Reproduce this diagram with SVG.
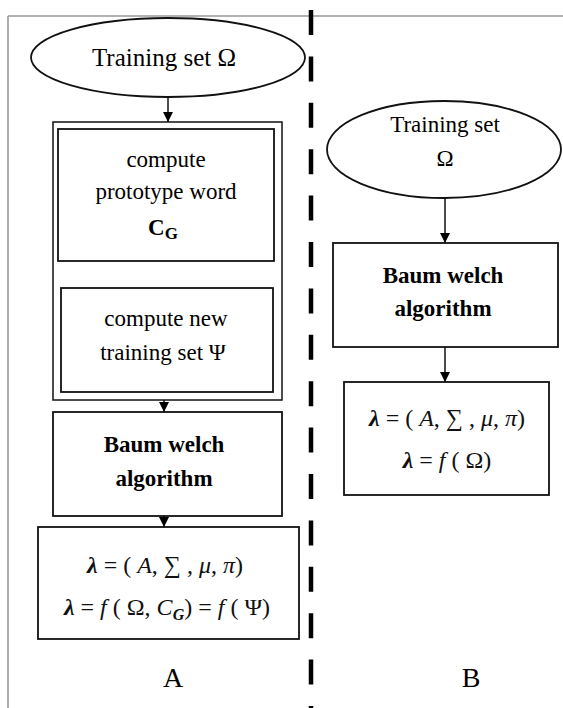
<svg xmlns="http://www.w3.org/2000/svg" width="563" height="708" viewBox="0 0 563 708">
<defs>
<style>
.t{font-family:"Liberation Serif","Times New Roman",serif;font-size:23px;fill:#000;text-anchor:middle}
.b{font-weight:bold}
.m{font-family:"Liberation Serif","Times New Roman",serif;font-size:24px;fill:#111;text-anchor:middle}
.i{font-style:italic}
.box{fill:#fff;stroke:#111;stroke-width:1.8}
.frame{stroke:#999;stroke-width:1.6;fill:none}
.conn{stroke:#111;stroke-width:1.5;fill:none}
.div{stroke:#000;stroke-width:4.5;stroke-dasharray:25 21.4;fill:none}
</style>
<marker id="ah" viewBox="0 0 10 10" refX="10" refY="5" markerWidth="10" markerHeight="10" markerUnits="userSpaceOnUse" orient="auto">
<path d="M0,0 L10,5 L0,10 z" fill="#000"/>
</marker>
</defs>
<rect width="563" height="708" fill="#fff"/>
<g id="frame">
<path class="frame" d="M8,16 H563 M8,16 V708"/>
<line class="div" x1="311" y1="10" x2="311" y2="708"/>
</g>
<g id="connectors">
<line class="conn" x1="168" y1="97" x2="168" y2="122" marker-end="url(#ah)"/>
<line class="conn" x1="168" y1="261" x2="168" y2="288" marker-end="url(#ah)"/>
<line class="conn" x1="164" y1="392" x2="164" y2="412" marker-end="url(#ah)"/>
<line class="conn" x1="164" y1="516" x2="164" y2="527" marker-end="url(#ah)"/>
<line class="conn" x1="445" y1="198" x2="445" y2="243" marker-end="url(#ah)"/>
<line class="conn" x1="445" y1="347" x2="445" y2="382" marker-end="url(#ah)"/>
</g>
<g id="a-training">
<ellipse class="box" cx="168" cy="57.5" rx="137" ry="39.5"/>
<text class="t" x="164" y="66" style="font-size:25px">Training set Ω</text>
</g>
<g id="a-group">
<rect class="box" x="53" y="122" width="229" height="278" style="stroke-width:1.5"/>
</g>
<g id="a-prototype">
<rect class="box" x="58" y="129" width="216" height="132"/>
<text class="t" x="166" y="167">compute</text>
<text class="t" x="166" y="199">prototype word</text>
<text class="t b" x="163" y="235">C<tspan font-size="17" dy="4">G</tspan></text>
</g>
<g id="a-newset">
<rect class="box" x="61" y="288" width="212" height="104"/>
<text class="t" x="166" y="326">compute new</text>
<text class="t" x="163" y="360">training set Ψ</text>
</g>
<g id="a-baum">
<rect class="box" x="53" y="412" width="229" height="104"/>
<text class="t b" x="164" y="452">Baum welch</text>
<text class="t b" x="164" y="486">algorithm</text>
</g>
<g id="a-result">
<rect class="box" x="38" y="527" width="261" height="112"/>
<text class="m" x="165" y="573"><tspan class="i b">λ</tspan> = ( <tspan class="i">A</tspan>, ∑ , <tspan class="i">μ</tspan>, <tspan class="i">π</tspan>)</text>
<text class="m" x="167" y="615"><tspan class="i b">λ</tspan> = <tspan class="i">f</tspan> ( Ω, <tspan class="i">C</tspan><tspan font-size="16" class="i b" dy="5">G</tspan><tspan dy="-5">) = </tspan><tspan class="i">f</tspan> ( Ψ)</text>
</g>
<g id="b-training">
<ellipse class="box" cx="444" cy="149.5" rx="117" ry="48.5"/>
<text class="t" x="445" y="132">Training set</text>
<text class="t" x="445" y="166">Ω</text>
</g>
<g id="b-baum">
<rect class="box" x="333" y="243" width="225" height="104"/>
<text class="t b" x="443" y="283">Baum welch</text>
<text class="t b" x="443" y="316">algorithm</text>
</g>
<g id="b-result">
<rect class="box" x="344" y="382" width="205" height="113"/>
<text class="m" x="447" y="426"><tspan class="i b">λ</tspan> = ( <tspan class="i">A</tspan>, ∑ , <tspan class="i">μ</tspan>, <tspan class="i">π</tspan>)</text>
<text class="m" x="447" y="468"><tspan class="i b">λ</tspan> = <tspan class="i">f</tspan> ( Ω)</text>
</g>
<g id="labels">
<text class="t" x="173" y="687" style="font-size:28px">A</text>
<text class="t" x="471" y="687" style="font-size:28px">B</text>
</g>
</svg>
